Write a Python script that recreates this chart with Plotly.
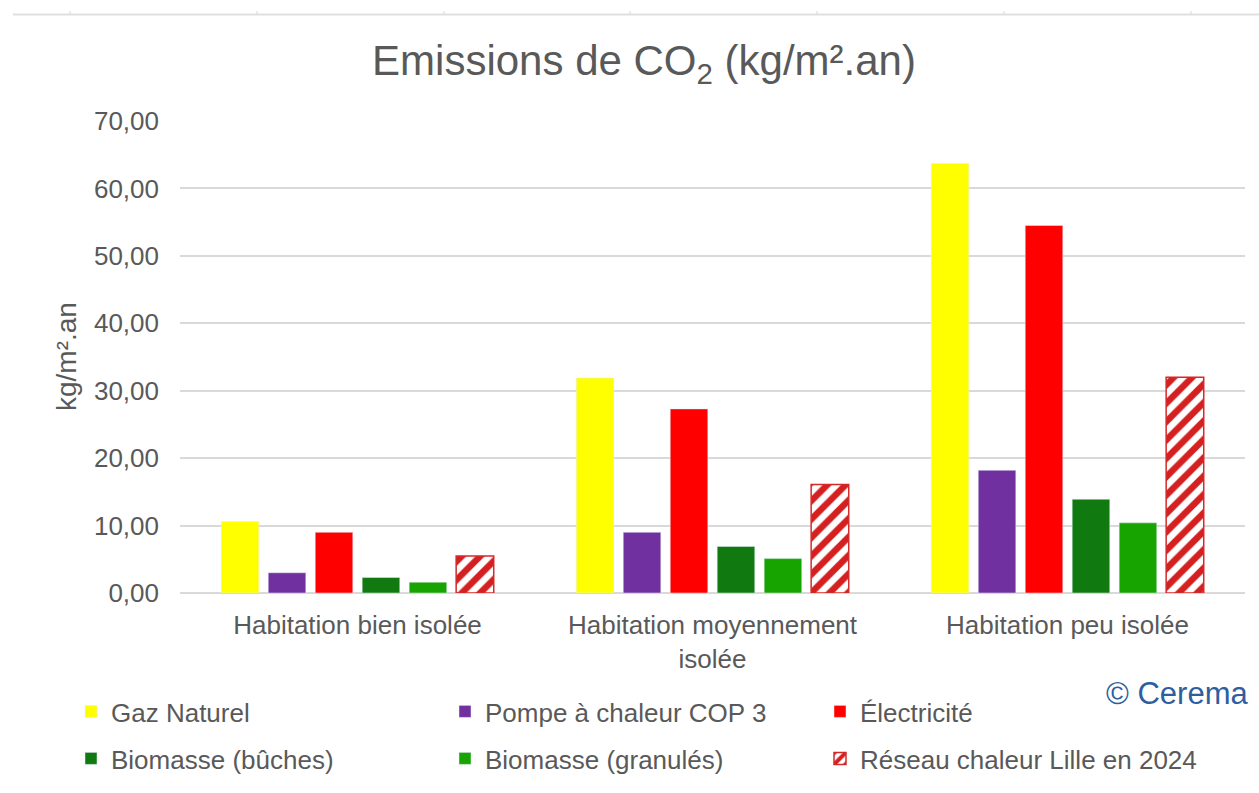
import plotly.graph_objects as go

categories = ["Habitation bien isolée", "Habitation moyennement<br>isolée", "Habitation peu isolée"]

gaz_naturel = [10.6, 31.9, 63.7]
pompe_chaleur = [3.0, 9.0, 18.2]
electricite = [9.0, 27.3, 54.5]
biomasse_buches = [2.3, 6.9, 13.9]
biomasse_granules = [1.6, 5.1, 10.4]
reseau_lille = [5.5, 16.1, 32.0]

y_ticks = [0, 10, 20, 30, 40, 50, 60, 70]

FONT = "Liberation Sans, Arial, sans-serif"
GREY = "#595959"

W, H = 1259, 793
L, R, T, B = 180, 14, 121, 200
PW, PH = W - L - R, H - T - B


def px_x(p):
    return (p - L) / PW


def px_y(p):
    return (H - B - p) / PH


series = [
    ("Gaz Naturel", gaz_naturel, dict(color="#FFFF00")),
    ("Pompe à chaleur COP 3", pompe_chaleur, dict(color="#7030A0")),
    ("Électricité", electricite, dict(color="#FF0000")),
    ("Biomasse (bûches)", biomasse_buches, dict(color="#107A10")),
    ("Biomasse (granulés)", biomasse_granules, dict(color="#18A400")),
    ("Réseau chaleur Lille en 2024", reseau_lille,
     dict(color="white",
          pattern=dict(shape="/", fgcolor="#D42020", bgcolor="white",
                       size=13, solidity=0.5, fgopacity=1),
          line=dict(color="#D42A2A", width=1.5))),
]

# legend slot positions (pixels): column text starts and row tops
legend_cols = [71, 445, 820]
legend_rows = [688, 735]

fig = go.Figure()
legend_layout = {}
for i, (name, vals, marker) in enumerate(series):
    key = "legend" if i == 0 else f"legend{i + 1}"
    fig.add_trace(go.Bar(x=categories, y=vals, name=name, marker=marker, legend=key))
    legend_layout[key] = dict(
        x=legend_cols[i % 3] / W,
        y=1 - legend_rows[i // 3] / H,
        xref="container", yref="container",
        xanchor="left", yanchor="top",
        font=dict(family=FONT, size=26, color=GREY),
        bgcolor="rgba(0,0,0,0)",
        itemclick=False, itemdoubleclick=False,
    )

# decorative ruler line at top
shapes = [dict(type="line", xref="paper", yref="paper",
               x0=px_x(13), x1=px_x(1259), y0=px_y(14.5), y1=px_y(14.5),
               line=dict(color="#E0E0E0", width=2))]
for tx in [70, 257, 444, 630, 817, 1004, 1191]:
    shapes.append(dict(type="line", xref="paper", yref="paper",
                       x0=px_x(tx), x1=px_x(tx), y0=px_y(14.5), y1=px_y(11),
                       line=dict(color="#D8D8D8", width=1)))

fig.update_layout(
    width=W, height=H,
    margin=dict(l=L, r=R, t=T, b=B, autoexpand=False),
    paper_bgcolor="white",
    plot_bgcolor="white",
    separators=", ",
    barmode="group",
    bargap=0.206,
    bargroupgap=0.2,
    font=dict(family=FONT, size=26, color=GREY),
    title=dict(
        text="Emissions de CO<sub>2</sub> (kg/m².an)",
        x=644 / W, xanchor="center",
        y=1 - 60 / H, yanchor="middle",
        yref="container", xref="container",
        font=dict(family=FONT, size=42, color=GREY),
    ),
    xaxis=dict(
        showgrid=False,
        showline=False,
        ticks="",
        tickfont=dict(family=FONT, size=26, color=GREY),
        ticklabelstandoff=14,
    ),
    yaxis=dict(
        range=[0, 70],
        tickvals=y_ticks,
        tickformat=".2f",
        showgrid=True,
        gridcolor="#D9D9D9",
        gridwidth=1.5,
        zeroline=True,
        zerolinecolor="#D9D9D9",
        zerolinewidth=1.5,
        showline=False,
        ticks="",
        ticklabelstandoff=20,
        tickfont=dict(family=FONT, size=26, color=GREY),
    ),
    shapes=shapes,
    annotations=[
        dict(text="kg/m².an", xref="paper", yref="paper",
             x=px_x(66), y=px_y(357), xanchor="center", yanchor="middle",
             textangle=-90, showarrow=False,
             font=dict(family=FONT, size=28, color=GREY)),
        dict(text="© Cerema", xref="paper", yref="paper",
             x=px_x(1250), y=px_y(693), xanchor="right", yanchor="middle",
             showarrow=False,
             font=dict(family=FONT, size=31, color="#2E5E9E")),
    ],
    showlegend=True,
    **legend_layout,
)

fig.write_html("out.html", config={"displayModeBar": False},
               post_script="document.body.style.margin='0';")
